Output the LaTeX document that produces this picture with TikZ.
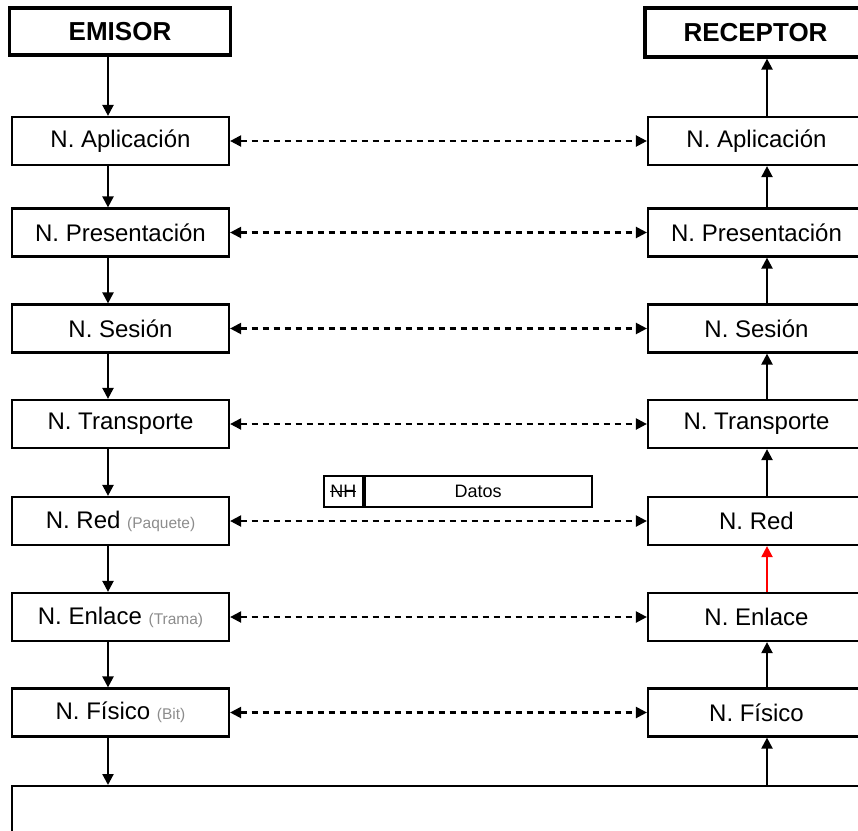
\documentclass[tikz,border=0pt]{standalone}
\usepackage{fontspec}
\setmainfont{Liberation Sans}
\usetikzlibrary{arrows.meta}

% struck-through text
\newsavebox{\tachbox}
\newcommand{\tachado}[1]{\sbox{\tachbox}{#1}%
  \rlap{\raisebox{0.33em}{\rule{\wd\tachbox}{1.2pt}}}\usebox{\tachbox}}

\begin{document}
\begin{tikzpicture}[x=1pt,y=-1pt,
  layer/.style={draw, line width=2.2pt, minimum width=217pt, minimum height=48pt,
    inner sep=0pt, font=\fontsize{24}{28}\selectfont},
  endpt/.style={draw, line width=3.2pt, minimum width=221pt, minimum height=47pt,
    inner sep=0pt, font=\bfseries\fontsize{26}{30}\selectfont},
  flow/.style={-{Triangle[length=11pt,width=11pt]}, line width=2.2pt},
  peer/.style={{Triangle[length=11pt,width=11pt]}-{Triangle[length=11pt,width=11pt]},
    line width=2.2pt, dash pattern=on 6pt off 5pt},
  cell/.style={draw, line width=1.8pt, minimum height=31pt, inner sep=0pt,
    font=\fontsize{18}{21}\selectfont}]
\newcommand{\unidad}[1]{{\color{black!45}\fontsize{15.5}{18}\selectfont #1}}

\useasboundingbox (0,0) rectangle (858,830);

% end systems
\node[endpt] (emisor) at (120,31.5) {EMISOR};
\node[endpt, minimum height=49pt] (receptor) at (755.5,32.5) {RECEPTOR};

% sender stack
\node[layer] (l1) at (120.5,141) {N. Aplicación};
\node[layer] (l2) at (120.5,232.5) {N. Presentación};
\node[layer] (l3) at (120.5,328.5) {N. Sesión};
\node[layer] (l4) at (120.5,424) {N. Transporte};
\node[layer] (l5) at (120.5,521) {N. Red \unidad{(Paquete)}};
\node[layer] (l6) at (120.5,617) {N. Enlace \unidad{(Trama)}};
\node[layer] (l7) at (120.5,712.5) {N. Físico \unidad{(Bit)}};

% receiver stack
\node[layer] (r1) at (756.5,141) {N. Aplicación};
\node[layer] (r2) at (756.5,232.5) {N. Presentación};
\node[layer] (r3) at (756.5,328.5) {N. Sesión};
\node[layer] (r4) at (756.5,424) {N. Transporte};
\node[layer] (r5) at (756.5,521) {N. Red};
\node[layer] (r6) at (756.5,617) {N. Enlace};
\node[layer] (r7) at (756.5,712.5) {N. Físico};

% physical medium
\node[draw, line width=2.2pt, anchor=north west, minimum width=870pt,
  minimum height=80pt, inner sep=0pt] (medio) at (11,785) {};

% packet format
\node[cell, minimum width=39pt, anchor=west] (nh) at (323,491.5) {\tachado{NH}};
\node[cell, minimum width=227pt, anchor=west] (datos) at (nh.east) {Datos};

% downward flow on the sender
\draw[flow] ([xshift=-12pt]emisor.south) -- ([xshift=-12.5pt]l1.north);
\foreach \a/\b in {l1/l2,l2/l3,l3/l4,l4/l5,l5/l6,l6/l7}
  \draw[flow] ([xshift=-12.5pt]\a.south) -- ([xshift=-12.5pt]\b.north);
\draw[flow] ([xshift=-12.5pt]l7.south) -- ([xshift=-12.5pt]l7.south |- medio.north);

% upward flow on the receiver
\draw[flow] ([xshift=10.5pt]r7.south |- medio.north) -- ([xshift=10.5pt]r7.south);
\draw[flow, red] ([xshift=10.5pt]r6.north) -- ([xshift=10.5pt]r5.south);
\foreach \a/\b in {r7/r6,r5/r4,r4/r3,r3/r2,r2/r1}
  \draw[flow] ([xshift=10.5pt]\a.north) -- ([xshift=10.5pt]\b.south);
\draw[flow] ([xshift=10.5pt]r1.north) -- ([xshift=10.5pt]r1.north |- receptor.south);

% peer-to-peer protocols
\foreach \i in {1,...,7}
  \draw[peer] (l\i.east) -- (r\i.west);
\end{tikzpicture}
\end{document}
